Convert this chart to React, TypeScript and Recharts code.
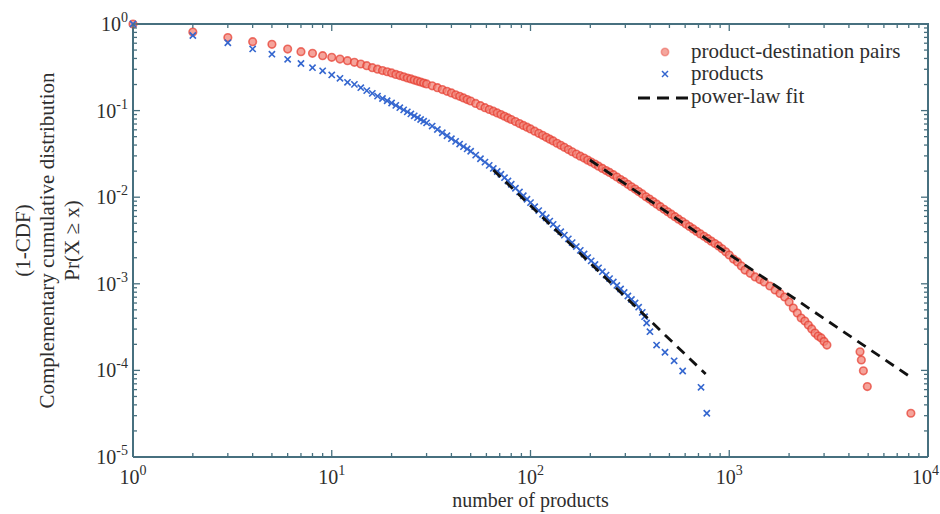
import React from 'react';
import { ScatterChart, Scatter, XAxis, YAxis, Legend } from 'recharts';

// product-destination pairs: [number of products, Pr(X >= x)]
const pairsSeries: [number, number][] = [
  [1, 1], [2, 0.808], [3, 0.698], [4, 0.625], [5, 0.583], [6, 0.514], [7, 0.479], [8, 0.459], [9, 0.431], [10, 0.412],
  [11, 0.394], [12, 0.377], [13, 0.361], [14, 0.345], [15, 0.33], [16, 0.313], [17, 0.301], [18, 0.29], [19, 0.281], [20, 0.272],
  [21, 0.262], [22, 0.254], [23, 0.246], [24, 0.238], [25, 0.232], [26, 0.225], [27, 0.219], [28, 0.214], [29, 0.208], [30, 0.203],
  [32, 0.193], [34, 0.184], [36, 0.175], [38, 0.167], [40, 0.16], [42, 0.152], [44, 0.146], [46, 0.14], [48, 0.134], [50, 0.129],
  [53, 0.121], [56, 0.114], [59, 0.108], [62, 0.103], [65, 0.0984], [68, 0.094], [71, 0.09], [74, 0.086], [77, 0.0823], [80, 0.0789],
  [84, 0.0747], [88, 0.0709], [92, 0.0674], [96, 0.0643], [100, 0.0614], [105, 0.0578], [110, 0.0546], [115, 0.0518], [120, 0.0491], [125, 0.0468],
  [130, 0.0446], [136, 0.042], [142, 0.0398], [148, 0.0377], [155, 0.0355], [162, 0.0335], [170, 0.0315], [178, 0.0298], [186, 0.0283], [194, 0.0268],
  [202, 0.0255], [211, 0.0241], [220, 0.0228], [230, 0.0215], [240, 0.0203], [250, 0.0193], [261, 0.0182], [272, 0.0171], [284, 0.016], [296, 0.0151],
  [309, 0.0141], [322, 0.0132], [336, 0.0124], [350, 0.0116], [365, 0.0109], [381, 0.0101], [397, 0.00951], [414, 0.00889], [432, 0.00831], [450, 0.00778],
  [470, 0.00726], [490, 0.00679], [511, 0.00636], [533, 0.00596], [556, 0.00558], [580, 0.00523], [605, 0.0049], [631, 0.00459], [658, 0.0043], [686, 0.00403],
  [716, 0.00377], [747, 0.00354], [779, 0.00332], [812, 0.00311], [847, 0.00292], [883, 0.00274], [920, 0.00254], [960, 0.00234], [1000, 0.00215],
  [1050, 0.00193], [1100, 0.00179], [1150, 0.00161], [1200, 0.00144], [1275, 0.00132], [1350, 0.0012], [1425, 0.00112], [1500, 0.00105],
  [1600, 0.000943], [1700, 0.000848], [1800, 0.000773], [1900, 0.000704], [2000, 0.000616], [2100, 0.000525], [2200, 0.00046], [2300, 0.000403],
  [2400, 0.000372], [2500, 0.000334], [2600, 0.000301], [2700, 0.00027], [2800, 0.000249], [2900, 0.000237], [3000, 0.000216], [3100, 0.000196],
  [4550, 0.000164], [4620, 0.000132], [4730, 0.000099], [4950, 0.000065], [8200, 0.000032],
];

// products: [number of products, Pr(X >= x)]
const productsSeries: [number, number][] = [
  [1, 1], [2, 0.737], [3, 0.608], [4, 0.515], [5, 0.448], [6, 0.391], [7, 0.35], [8, 0.313], [9, 0.288], [10, 0.258],
  [11, 0.236], [12, 0.212], [13, 0.201], [14, 0.184], [15, 0.17], [16, 0.158], [17, 0.147], [18, 0.138], [19, 0.13], [20, 0.1224],
  [21, 0.1148], [22, 0.1081], [23, 0.102], [24, 0.0966], [25, 0.0915], [26, 0.087], [27, 0.0828], [28, 0.079], [29, 0.0755], [30, 0.0722],
  [32, 0.0663], [34, 0.0605], [36, 0.0555], [38, 0.0512], [40, 0.0474], [42, 0.0441], [44, 0.0411], [46, 0.0384], [48, 0.0361], [50, 0.0339],
  [53, 0.0306], [56, 0.0278], [59, 0.0254], [62, 0.0233], [65, 0.0215], [68, 0.0198], [71, 0.0184], [74, 0.0168], [77, 0.0154], [80, 0.0141],
  [84, 0.0127], [88, 0.0115], [92, 0.0104], [96, 0.00946], [100, 0.00865], [105, 0.00777], [110, 0.00701], [115, 0.00636], [120, 0.00579], [125, 0.00529],
  [130, 0.00486], [136, 0.0044], [142, 0.004], [148, 0.00365], [155, 0.0033], [162, 0.00299], [170, 0.00269], [178, 0.00243], [186, 0.00221], [194, 0.00201],
  [202, 0.00184], [211, 0.00167], [220, 0.00153], [230, 0.00138], [240, 0.00126], [250, 0.00115], [261, 0.00105], [272, 0.000957], [284, 0.000871], [296, 0.000795],
  [309, 0.000723], [322, 0.00066], [336, 0.000601], [350, 0.000537], [365, 0.000468], [375, 0.000417], [384, 0.000353], [399, 0.00028],
  [431, 0.000196], [475, 0.000162], [528, 0.000129], [583, 0.0000984], [721, 0.0000638], [771, 0.000032],
];

// power-law fits (end points of straight lines in log-log space)
const pairsFit: [number, number][] = [[199, 0.0269], [8115, 0.0000846]];
const productsFit: [number, number][] = [[65, 0.0206], [761, 0.0000909]];

// axis ranges
const xRange: [number, number] = [1, 10000];
const yRange: [number, number] = [0.00001, 1];

const xTicks = [
  1, 2, 3, 4, 5, 6, 7, 8, 9, 10, 20, 30, 40, 50, 60, 70, 80, 90, 100,
  200, 300, 400, 500, 600, 700, 800, 900, 1000, 2000, 3000, 4000, 5000, 6000, 7000, 8000, 9000, 10000,
];
const yTicks = [
  0.00001, 0.00002, 0.00003, 0.00004, 0.00005, 0.00006, 0.00007, 0.00008, 0.00009,
  0.0001, 0.0002, 0.0003, 0.0004, 0.0005, 0.0006, 0.0007, 0.0008, 0.0009,
  0.001, 0.002, 0.003, 0.004, 0.005, 0.006, 0.007, 0.008, 0.009,
  0.01, 0.02, 0.03, 0.04, 0.05, 0.06, 0.07, 0.08, 0.09,
  0.1, 0.2, 0.3, 0.4, 0.5, 0.6, 0.7, 0.8, 0.9, 1,
];

const legendLabels = ['product-destination pairs', 'products', 'power-law fit'];
const xTitle = 'number of products';
const yTitleLines = ['(1-CDF)', 'Complementary cumulative distribution', 'Pr(X \u2265 x)'];

// layout
const CHART_W = 940;
const CHART_H = 514;
const MARGIN_TOP = 24;
const MARGIN_RIGHT = 12;
const PLOT_RIGHT = CHART_W - MARGIN_RIGHT;

const FONT = '"Liberation Serif", "Times New Roman", serif';
const AXIS = '#47707f';
const TEXT = '#2e2e2e';
const RED = '#e63a2e';
const RED_FILL = '#f2857a';
const BLUE = '#3466cf';

const toPoints = (arr: [number, number][]) => arr.map(([x, y]) => ({ x, y }));

const decadeExp = (v: number) => {
  const l = Math.log10(v);
  const r = Math.round(l);
  return Math.abs(l - r) < 1e-6 ? r : null;
};

// bottom ticks (inward) + mirrored ticks on the top edge of the box
const BottomTick = (p: any) => {
  const { x, y, payload } = p;
  const e = decadeExp(payload.value);
  const len = e !== null ? 7 : 4;
  const last = e === 4;
  return (
    <g>
      <line x1={x} x2={x} y1={y} y2={y - len} stroke={AXIS} strokeWidth={1.3} />
      <line x1={x} x2={x} y1={MARGIN_TOP} y2={MARGIN_TOP + len} stroke={AXIS} strokeWidth={1.3} />
      {e !== null && (
        <text
          x={last ? x + 11 : x}
          y={y + 27}
          textAnchor={last ? 'end' : 'middle'}
          fontFamily={FONT}
          fontSize={20}
          fill={TEXT}
        >
          10<tspan dy={-9} fontSize={14}>{String(e)}</tspan>
        </text>
      )}
    </g>
  );
};

// left ticks (inward) + mirrored ticks on the right edge of the box
const LeftTick = (p: any) => {
  const { x, y, payload } = p;
  const e = decadeExp(payload.value);
  const len = e !== null ? 7 : 4;
  return (
    <g>
      <line x1={x} x2={x + len} y1={y} y2={y} stroke={AXIS} strokeWidth={1.3} />
      <line x1={PLOT_RIGHT} x2={PLOT_RIGHT - len} y1={y} y2={y} stroke={AXIS} strokeWidth={1.3} />
      {e !== null && (
        <text x={x - 5} y={y + 7} textAnchor="end" fontFamily={FONT} fontSize={20} fill={TEXT}>
          10<tspan dy={-9} fontSize={14}>{e === 0 ? '0' : '-' + String(-e)}</tspan>
        </text>
      )}
    </g>
  );
};

const RedCircle = (p: any) => (
  <circle cx={p.cx} cy={p.cy} r={3.8} fill={RED_FILL} fillOpacity={0.75} stroke={RED} strokeWidth={1.6} strokeOpacity={0.7} />
);

const BlueCross = (p: any) => {
  const s = 3.1;
  return (
    <g stroke={BLUE} strokeWidth={1.6}>
      <line x1={p.cx - s} y1={p.cy - s} x2={p.cx + s} y2={p.cy + s} />
      <line x1={p.cx - s} y1={p.cy + s} x2={p.cx + s} y2={p.cy - s} />
    </g>
  );
};

const NoShape = () => <g />;

// x title, plus the top and right edges of the box around the plot
const XTitle = (p: any) => {
  const vb = p.viewBox || {};
  const right = vb.x + vb.width;
  return (
    <g>
      <polyline
        points={`${vb.x},${MARGIN_TOP} ${right},${MARGIN_TOP} ${right},${vb.y}`}
        fill="none"
        stroke={AXIS}
        strokeWidth={2}
      />
      <text x={vb.x + vb.width / 2} y={vb.y + 50} textAnchor="middle" fontFamily={FONT} fontSize={20} fill={TEXT}>
        {xTitle}
      </text>
    </g>
  );
};

const YTitle = (p: any) => {
  const vb = p.viewBox || {};
  const cy = vb.y + vb.height / 2;
  const xs = [23, 47, 72];
  return (
    <g>
      {yTitleLines.map((t, i) => (
        <text
          key={i}
          x={vb.x + xs[i]}
          y={cy}
          transform={`rotate(-90, ${vb.x + xs[i]}, ${cy})`}
          textAnchor="middle"
          dominantBaseline="central"
          fontFamily={FONT}
          fontSize={21}
          fill={TEXT}
        >
          {t}
        </text>
      ))}
    </g>
  );
};

const LegendBox = () => (
  <svg width={300} height={80} style={{ display: 'block', overflow: 'visible' }}>
    <circle cx={35} cy={14} r={3.7} fill="#f4a69d" stroke={RED} strokeWidth={1.6} strokeOpacity={0.4} />
    <g stroke={BLUE} strokeWidth={1.5}>
      <line x1={32} y1={33} x2={38} y2={39} />
      <line x1={32} y1={39} x2={38} y2={33} />
    </g>
    <line x1={8} x2={58} y1={60} y2={60} stroke="#111" strokeWidth={3} strokeDasharray="12 7" />
    {legendLabels.map((t, i) => (
      <text key={i} x={61} y={[20, 42, 65][i]} fontFamily={FONT} fontSize={21} fill={TEXT}>
        {t}
      </text>
    ))}
  </svg>
);

const fitLine = { stroke: '#111', strokeWidth: 2.8, strokeDasharray: '10 7' };

export default function App() {
  return (
    <div style={{ position: 'absolute', left: 0, top: 0, width: CHART_W, height: CHART_H, background: '#fff' }}>
      <ScatterChart width={CHART_W} height={CHART_H} margin={{ top: MARGIN_TOP, right: MARGIN_RIGHT, bottom: 0, left: 0 }}>
        <XAxis
          dataKey="x"
          type="number"
          scale="log"
          domain={xRange}
          ticks={xTicks}
          interval={0}
          tickLine={false}
          tickSize={0}
          tickMargin={0}
          tick={BottomTick}
          height={57}
          axisLine={{ stroke: AXIS, strokeWidth: 2 }}
          label={{ content: XTitle }}
        />
        <YAxis
          dataKey="y"
          type="number"
          scale="log"
          domain={yRange}
          ticks={yTicks}
          interval={0}
          tickLine={false}
          tickSize={0}
          tickMargin={0}
          tick={LeftTick}
          width={133}
          axisLine={{ stroke: AXIS, strokeWidth: 2 }}
          label={{ content: YTitle }}
        />
        <Scatter data={toPoints(pairsSeries)} shape={RedCircle} isAnimationActive={false} />
        <Scatter data={toPoints(productsSeries)} shape={BlueCross} isAnimationActive={false} />
        <Scatter data={toPoints(pairsFit)} shape={NoShape} line={fitLine} isAnimationActive={false} />
        <Scatter data={toPoints(productsFit)} shape={NoShape} line={fitLine} isAnimationActive={false} />
        <Legend
          content={LegendBox}
          layout="horizontal"
          verticalAlign="middle"
          align="center"
          wrapperStyle={{ position: 'absolute', left: 630, top: 38, width: 300, height: 80 }}
        />
      </ScatterChart>
    </div>
  );
}
